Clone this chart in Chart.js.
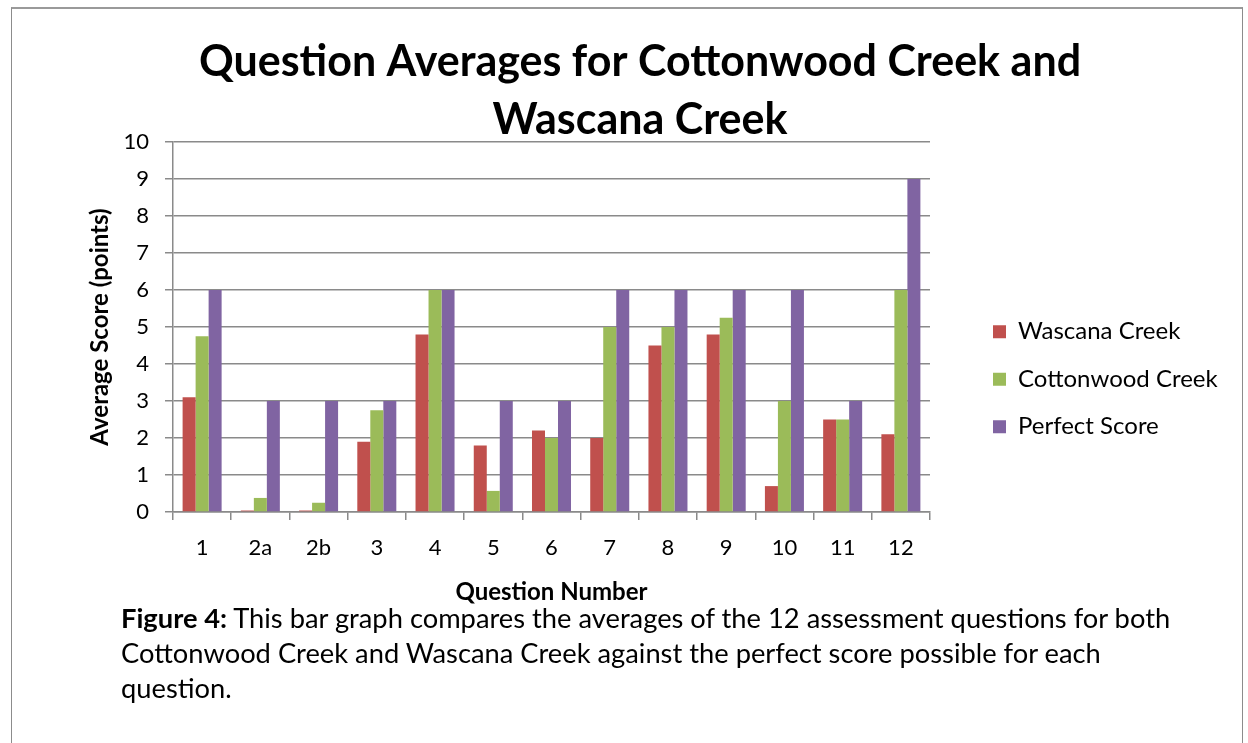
<!DOCTYPE html>
<html>
<head>
<meta charset="utf-8">
<script src="https://cdn.jsdelivr.net/npm/chart.js@4.4.0/dist/chart.umd.min.js"></script>
<style>
  html, body { margin: 0; padding: 0; background: #fff; overflow: hidden; }
  #frame {
    position: absolute; left: 11px; top: 7px; width: 1230px; height: 760px;
    border: 1px solid #8c8c8c; border-top: 2px solid #9a9a9a; border-bottom: none;
  }
  #wrap { position: absolute; left: 0; top: 0; width: 1300px; height: 612px; }
  #caption {
    position: absolute; left: 121px; top: 600px; width: 1110px; margin: 0;
    font-family: Lato, sans-serif; font-size: 27.3px; line-height: 35px; color: #000;
    white-space: nowrap;
  }
</style>
</head>
<body>
<div id="frame"></div>
<div id="wrap"><canvas id="chart" width="1300" height="612"></canvas></div>
<p id="caption"><b>Figure 4:</b> This bar graph compares the averages of the 12 assessment questions for both<br>Cottonwood Creek and Wascana Creek against the perfect score possible for each<br>question.</p>
<script>
const questions = ["1", "2a", "2b", "3", "4", "5", "6", "7", "8", "9", "10", "11", "12"];
const wascana = [3.1, 0.04, 0.04, 1.9, 4.8, 1.8, 2.2, 2.0, 4.5, 4.8, 0.7, 2.5, 2.1];
const cottonwood = [4.75, 0.38, 0.25, 2.75, 6, 0.57, 2.0, 5.0, 5.0, 5.25, 3.0, 2.5, 6];
const perfect = [6, 3, 3, 3, 6, 3, 3, 6, 6, 6, 6, 3, 9];
const yTicks = [0, 1, 2, 3, 4, 5, 6, 7, 8, 9, 10];

const font = "Lato, sans-serif";
const gridGray = "#8a8a8a";
const plotLeft = 173, plotRight = 930, titleCenter = 640;
const gapW = 39.5;
let padL = 60;

function makeChart() {
  const ctx = document.getElementById("chart").getContext("2d");
  const chart = new Chart(ctx, {
    type: "bar",
    data: {
      labels: questions,
      datasets: [
        { label: "Wascana Creek", data: wascana, backgroundColor: "#c0504d" },
        { label: "Cottonwood Creek", data: cottonwood, backgroundColor: "#9bbb59" },
        { label: "Perfect Score", data: perfect, backgroundColor: "#8064a2" }
      ]
    },
    options: {
      responsive: false,
      animation: false,
      categoryPercentage: 0.67,
      barPercentage: 1.0,
      layout: { padding: { left: padL, right: 30, top: 0, bottom: 0 } },
      plugins: {
        title: {
          display: true,
          text: ["Question Averages for Cottonwood Creek and", "Wascana Creek"],
          color: "#000",
          font: { family: font, size: 43, weight: "bold", lineHeight: 58 / 43 },
          padding: { top: 33, bottom: -7 }
        },
        legend: {
          position: "right",
          maxWidth: 400,
          title: { display: true, text: "", font: { size: 12 }, padding: 66 },
          labels: {
            color: "#000",
            boxWidth: 13,
            boxHeight: 13,
            padding: 23.5,
            font: { family: font, size: 24 }
          }
        },
        tooltip: { enabled: false }
      },
      scales: {
        x: {
          grid: { offset: true, drawOnChartArea: false, drawTicks: true, tickLength: 8, color: gridGray, lineWidth: 1.5 },
          border: { color: gridGray, width: 1.5 },
          ticks: { color: "#000", padding: 15, font: { family: font, size: 22 } },
          title: {
            display: true, text: "Question Number", color: "#000",
            font: { family: font, size: 24, weight: "bold" },
            padding: { top: 0, bottom: 5 }
          },
          afterFit(s) { s.height = 100; }
        },
        y: {
          min: 0,
          max: 10,
          afterBuildTicks(s) { s.ticks = yTicks.map(v => ({ value: v })); },
          grid: { color: gridGray, lineWidth: 1.5, tickLength: 8 },
          border: { color: gridGray, width: 1.5 },
          ticks: { color: "#000", padding: 16, font: { family: font, size: 22 } },
          title: {
            display: true, text: "Average Score (points)", color: "#000",
            font: { family: font, size: 24, weight: "bold" },
            padding: { top: 20, bottom: 0 }
          },
          afterFit(s) { s.width = plotLeft - padL; }
        },
        gap: {
          type: "linear",
          position: "right",
          display: true,
          grid: { display: false },
          border: { display: false },
          ticks: { display: false },
          afterFit(s) { s.width = gapW; }
        }
      }
    }
  });

  // second pass: place the plot at 173..930 and centre the title
  const lw = chart.legend.width;
  padL = Math.max(0, 2 * titleCenter - (plotRight + gapW + lw));
  const padR = 1300 - (plotRight + gapW + lw);
  chart.options.layout.padding = { left: padL, right: padR, top: 0, bottom: 0 };
  chart.options.scales.y.title.padding = { top: Math.max(0, 100 - padL - 14.4), bottom: 0 };
  chart.update();
}

document.fonts.load("24px Lato").then(() => document.fonts.load("bold 43px Lato")).then(makeChart, makeChart);
</script>
</body>
</html>
